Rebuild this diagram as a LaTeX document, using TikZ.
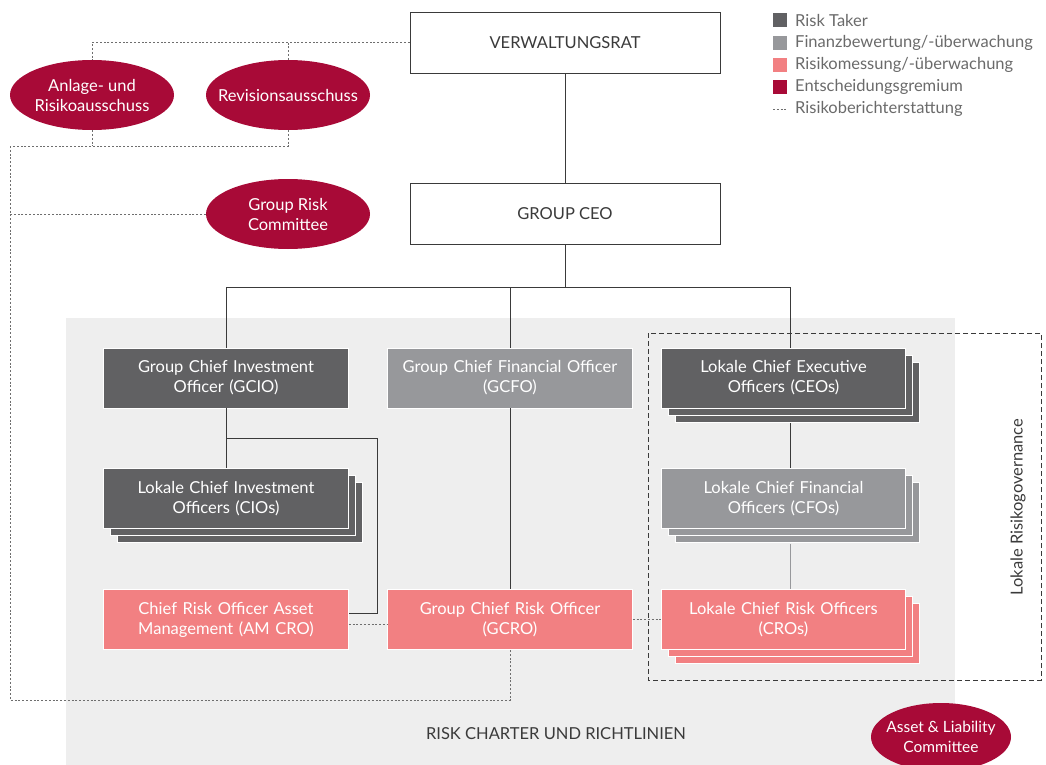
\documentclass[tikz,border=0pt]{standalone}
\usepackage{fontspec}
\setmainfont{Lato}
\usetikzlibrary{shapes.geometric,shadows}

\definecolor{taker}{HTML}{616163}
\definecolor{finance}{HTML}{97989B}
\definecolor{risk}{HTML}{F28082}
\definecolor{crimson}{HTML}{A80A37}
\definecolor{bggray}{HTML}{EEEEEE}
\definecolor{linegray}{HTML}{3A3A3A}
\definecolor{dotgray}{HTML}{6E6E6E}
\definecolor{legendgray}{HTML}{6A6A6A}

\newcommand{\boxfont}{\fontsize{16.5}{20}\selectfont}

\begin{document}
\begin{tikzpicture}[x=1pt, y=-1pt,
    box/.style = {draw=white, line width=0.8pt, minimum width=242pt, minimum height=60pt,
                  text width=238pt, align=center, text=white, font=\boxfont},
    stack/.style = {double copy shadow={shadow xshift=7pt, shadow yshift=-7pt}},
    top/.style = {draw=linegray, fill=white, line width=0.9pt, minimum width=310pt,
                  minimum height=61pt, text=linegray, font=\boxfont},
    board/.style = {ellipse, fill=crimson, text=white, minimum width=164pt, minimum height=70pt,
                    inner xsep=-30pt, inner ysep=-12pt, align=center, font=\boxfont},
    conn/.style = {draw=linegray, line width=1pt},
    report/.style = {draw=dotgray, line width=1pt, dash pattern=on 2pt off 1.8pt},
    legsq/.style = {fill=#1, minimum size=14pt, inner sep=0pt},
    legtxt/.style = {anchor=west, text=legendgray, inner sep=0pt, font=\boxfont}]

    \useasboundingbox (0,0) rectangle (1046,765);

    % Background
    \fill[bggray] (66,318) rectangle (955,765);
    \node[text=linegray, font=\boxfont] (charter) at (556,734) {RISK CHARTER UND RICHTLINIEN};

    % Local governance frame
    \draw[draw=linegray, line width=0.9pt, dash pattern=on 5pt off 3pt] (648,333) rectangle (1041,680);
    \node[rotate=90, text=linegray, font=\boxfont] (lokal) at (1018,507) {Lokale Risikogovernance};

    % Nodes
    \node[top] (vr) at (565,42.5) {VERWALTUNGSRAT};
    \node[top] (ceo) at (565,213.5) {GROUP CEO};

    \node[board] (anl) at (92,95) {Anlage- und\\Risikoausschuss};
    \node[board] (rev) at (288,95) {Revisionsausschuss};
    \node[board] (grc) at (288,214) {Group Risk\\Committee};
    \node[board, minimum width=140pt, minimum height=68pt, font=\fontsize{15.5}{20}\selectfont] (alc) at (941,737) {Asset \& Liability\\Committee};

    \node[box, fill=taker] (gcio) at (226,378) {Group Chief Investment\\Officer (GCIO)};
    \node[box, fill=finance] (gcfo) at (510,378) {Group Chief Financial Officer\\(GCFO)};
    \node[box, stack, fill=taker] (ceos) at (783.5,378) {Lokale Chief Executive\\Officers (CEOs)};

    \node[box, stack, fill=taker] (cios) at (226,498.5) {Lokale Chief Investment\\Officers (CIOs)};
    \node[box, stack, fill=finance] (cfos) at (783.5,498.5) {Lokale Chief Financial\\Officers (CFOs)};

    \node[box, fill=risk] (amcro) at (226,619.5) {Chief Risk Officer Asset\\Management (AM CRO)};
    \node[box, fill=risk] (gcro) at (510,619.5) {Group Chief Risk Officer\\(GCRO)};
    \node[box, stack, fill=risk] (cros) at (783.5,619.5) {Lokale Chief Risk Officers\\(CROs)};

    % Coordinates
    \coordinate (bus) at (565,287);
    \coordinate (busl) at (226,287);
    \coordinate (busr) at (790,287);
    \coordinate (cioknee) at (226,438);
    \coordinate (crocorner) at (377,613);
    \coordinate (r1) at (10,146);
    \coordinate (r2) at (510,700);

    % Edges
    \draw[conn] (vr) -- (ceo);
    \draw[conn] (ceo) -- (bus);
    \draw[conn] (busl) -- (busr);
    \draw[conn] (busl) -- (gcio);
    \draw[conn] (gcfo.north |- busl) -- (gcfo);
    \draw[conn] (busr) -- (busr |- ceos.north);
    \draw[conn] (gcio) -- (cios);
    \draw[conn] (cioknee) -| (crocorner) -- (crocorner -| amcro.east);
    \draw[conn] (gcfo) -- (gcro);
    \draw[conn] ([yshift=-15pt]busr |- ceos.south) -- (busr |- cfos.north);
    \draw[conn, draw=finance] ([yshift=-15pt]busr |- cfos.south) -- (busr |- cros.north);

    % Reporting lines
    \draw[report] (vr.west) -| (anl.north);
    \draw[report] (rev.north) -- (rev.north |- vr.west);
    \draw[report] (anl.south) -- (anl.south |- r1);
    \draw[report] (rev.south) |- (r1);
    \draw[report] (grc.west) -- (grc.west -| r1);
    \draw[report] (r1) |- (r2) -- (gcro.south);
    \draw[report] ([yshift=-5pt]amcro.east) -- ([yshift=-5pt]amcro.east -| gcro.west);
    \draw[report] (gcro.east) -- (cros.west);

    % Legend
    \node[legsq=taker] (l1) at (780,20) {};
    \node[legsq=finance] (l2) at (780,43) {};
    \node[legsq=risk] (l3) at (780,65) {};
    \node[legsq=crimson] (l4) at (780,87) {};
    \coordinate (l5) at (780,109);
    \node[legtxt] at (795,20) {Risk Taker};
    \node[legtxt] at (795,43) {Finanzbewertung/-überwachung};
    \node[legtxt] at (795,65) {Risikomessung/-überwachung};
    \node[legtxt] at (795,87) {Entscheidungsgremium};
    \node[legtxt] at (795,109) {Risikoberichterstattung};
    \draw[report, line width=0.8pt] ([xshift=-7pt]l5) -- ([xshift=8pt]l5);

\end{tikzpicture}
\end{document}
